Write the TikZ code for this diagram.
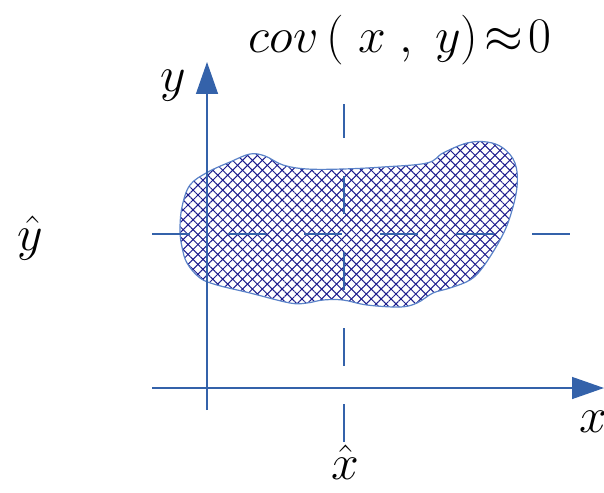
\documentclass[tikz,border=0pt]{standalone}
\usepackage{amsmath,amsfonts}
\usetikzlibrary{arrows.meta,patterns.meta}

\definecolor{axisblue}{RGB}{52,98,170}
\definecolor{rimblue}{RGB}{90,130,200}
\definecolor{hatchnavy}{RGB}{28,28,140}

\tikzset{
	axis/.style = {axisblue, line width=0.7pt, -{Triangle[length=16pt,width=11pt]}},
	guide/.style = {axisblue, line width=0.6pt, dash pattern=on 19pt off 19pt},
	hatchA/.style = {pattern={Lines[angle=45,distance=3.5pt,line width=0.5pt]}, pattern color=hatchnavy},
	hatchB/.style = {pattern={Lines[angle=-45,distance=3.5pt,line width=0.5pt]}, pattern color=hatchnavy},
	lbl/.style = {inner sep=0pt, font=\fontsize{24}{28}\selectfont}
}

\begin{document}
\begin{tikzpicture}[x=0.5pt,y=-0.5pt]
	\useasboundingbox (0,0) rectangle (604,492);
%
	\path[hatchA] plot[smooth cycle, tension=0.6] coordinates {
		(180,230) (182,207) (190,185) (208,172) (230,162) (250,154) (265,156)
		(283,165) (307,169) (343,169) (383,167) (427,163) (443,153) (467,143)
		(487,142) (503,148) (515,163) (517,187) (510,217) (500,240) (483,267)
		(470,280) (450,288) (433,293) (417,303) (400,307) (367,305) (343,300)
		(323,300) (307,303) (290,303) (250,293) (217,285) (200,278) (187,263)
		(182,247)};
	\draw[rimblue, line width=0.6pt, hatchB] plot[smooth cycle, tension=0.6] coordinates {
		(180,230) (182,207) (190,185) (208,172) (230,162) (250,154) (265,156)
		(283,165) (307,169) (343,169) (383,167) (427,163) (443,153) (467,143)
		(487,142) (503,148) (515,163) (517,187) (510,217) (500,240) (483,267)
		(470,280) (450,288) (433,293) (417,303) (400,307) (367,305) (343,300)
		(323,300) (307,303) (290,303) (250,293) (217,285) (200,278) (187,263)
		(182,247)};
%
	\coordinate (xfrom) at (152,388);
	\coordinate (xto) at (604,388);
	\coordinate (yfrom) at (207,410);
	\coordinate (yto) at (207,62);
	\coordinate (hfrom) at (152,234);
	\coordinate (hto) at (573,234);
	\coordinate (vfrom) at (344,442);
	\coordinate (vto) at (344,104);
%
	\draw[guide] (hfrom) -- (hto);
	\draw[guide] (vfrom) -- (vto);
	\draw[axis] (xfrom) -- (xto);
	\draw[axis] (yfrom) -- (yto);
%
	\node[lbl, font=\fontsize{29}{32}\selectfont] (cov) at (400,40)
		{$cov\left(\;x\;,\;y\right)\!\approx\!0$};
	\node[lbl] (ylab) at (173,86) {$y$};
	\node[lbl] (xlab) at (593,422) {$x$};
	\node[lbl] (yhat) at (30,238) {$\hat{y}$};
	\node[lbl] (xhat) at (345,462) {$\hat{x}$};
\end{tikzpicture}
\end{document}
